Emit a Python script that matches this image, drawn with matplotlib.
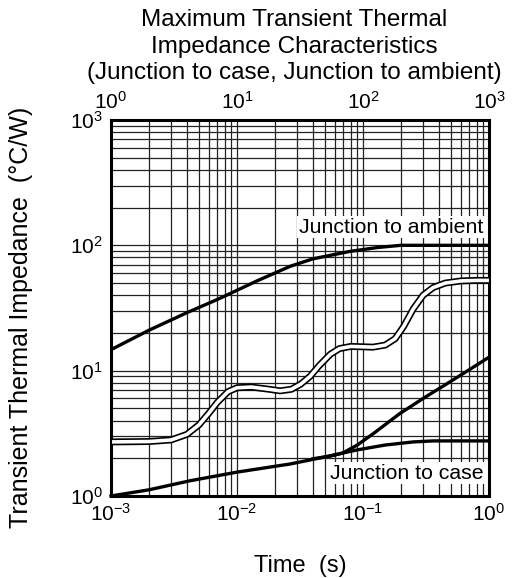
import matplotlib
matplotlib.use("Agg")
import matplotlib.pyplot as plt
from matplotlib.ticker import LogLocator, NullFormatter

plt.rcParams["font.family"] = ["Liberation Sans", "DejaVu Sans"]

# Junction to ambient
amb_t = [1e-3, 2e-3, 4e-3, 7e-3, 0.0144, 0.0264, 0.04, 0.079, 0.13, 0.2, 0.4, 1.0]
amb_z = [14.7, 21, 29, 37, 52, 68, 78, 89.5, 96, 100, 100, 100]

# Junction to case
case_t = [1e-3, 2e-3, 4.2e-3, 0.01, 0.0264, 0.05, 0.0896, 0.15, 0.25, 0.36, 1.0]
case_z = [1.0, 1.12, 1.32, 1.55, 1.80, 2.05, 2.33, 2.55, 2.7, 2.75, 2.75]

# rising curve
rise_t = [0.04, 0.055, 0.069, 0.09, 0.12, 0.195, 0.3, 0.464, 0.7, 1.0]
rise_z = [1.98, 2.08, 2.2, 2.55, 3.13, 4.53, 6.0, 7.87, 10.2, 12.8]

# double-line curve
dbl_t = [1e-3, 2e-3, 3e-3, 4e-3, 5e-3, 6e-3, 7e-3, 8.5e-3, 0.01, 0.013, 0.018,
         0.022, 0.027, 0.032, 0.038, 0.045, 0.055, 0.065, 0.08, 0.1, 0.12,
         0.15, 0.18, 0.21, 0.25, 0.3, 0.36, 0.45, 0.6, 0.8, 1.0]
dbl_z = [2.7, 2.72, 2.8, 3.1, 3.7, 4.6, 5.6, 6.8, 7.3, 7.4, 7.1,
         6.9, 7.1, 7.8, 9.0, 11.0, 13.5, 15.0, 15.6, 15.5, 15.4,
         16.0, 18.0, 22.5, 31, 40, 46, 50, 52, 52.5, 52.5]

fig = plt.figure(figsize=(5.12, 5.78), dpi=100)
ax = fig.add_axes([0.2168, 0.1419, 0.7383, 0.6505])
ax.set_xscale("log")
ax.set_yscale("log")
ax.set_xlim(1e-3, 1)
ax.set_ylim(1, 1000)
ax.xaxis.set_minor_locator(LogLocator(base=10, subs=range(2, 10)))
ax.yaxis.set_minor_locator(LogLocator(base=10, subs=range(2, 10)))
ax.xaxis.set_minor_formatter(NullFormatter())
ax.yaxis.set_minor_formatter(NullFormatter())
ax.grid(True, which="both", color="#222222", linewidth=0.9)
ax.tick_params(which="both", length=0, labelsize=15)
ax.tick_params(axis="x", pad=5)
ax.tick_params(axis="y", pad=6)
for s in ax.spines.values():
    s.set_linewidth(2.2)

ax.plot(amb_t, amb_z, color="black", linewidth=2.4, zorder=3)
ax.plot(case_t, case_z, color="black", linewidth=2.4, zorder=3, clip_on=False)
ax.plot(rise_t, rise_z, color="black", linewidth=2.4, zorder=3)
ax.plot(dbl_t, dbl_z, color="black", linewidth=5, zorder=4, clip_on=False, solid_capstyle="butt")
ax.plot(dbl_t, dbl_z, color="white", linewidth=2.6, zorder=5, clip_on=False, solid_capstyle="butt")

ax.text(0.985, 0.715, "Junction to ambient", transform=ax.transAxes, ha="right", va="center",
        fontsize=15.3, zorder=6, bbox=dict(facecolor="white", edgecolor="none", pad=1))
ax.text(0.985, 0.06, "Junction to case", transform=ax.transAxes, ha="right", va="center",
        fontsize=15.3, zorder=6, bbox=dict(facecolor="white", edgecolor="none", pad=1))

top = ax.twiny()
top.set_xscale("log")
top.set_xlim(1, 1000)
top.xaxis.set_minor_formatter(NullFormatter())
top.tick_params(which="both", length=0, labelsize=15, pad=5)

ax.set_xlabel("Time  (s)", fontsize=17)
ax.xaxis.set_label_coords(0.5, -0.157)
ax.set_ylabel("Transient Thermal Impedance  (°C/W)", fontsize=18)
ax.yaxis.set_label_coords(-0.206, 0.475)
fig.text(0.574, 0.984, "Maximum Transient Thermal\nImpedance Characteristics\n(Junction to case, Junction to ambient)",
         ha="center", va="top", fontsize=17.5, linespacing=1.27)

fig.savefig("out.png", dpi=100)
